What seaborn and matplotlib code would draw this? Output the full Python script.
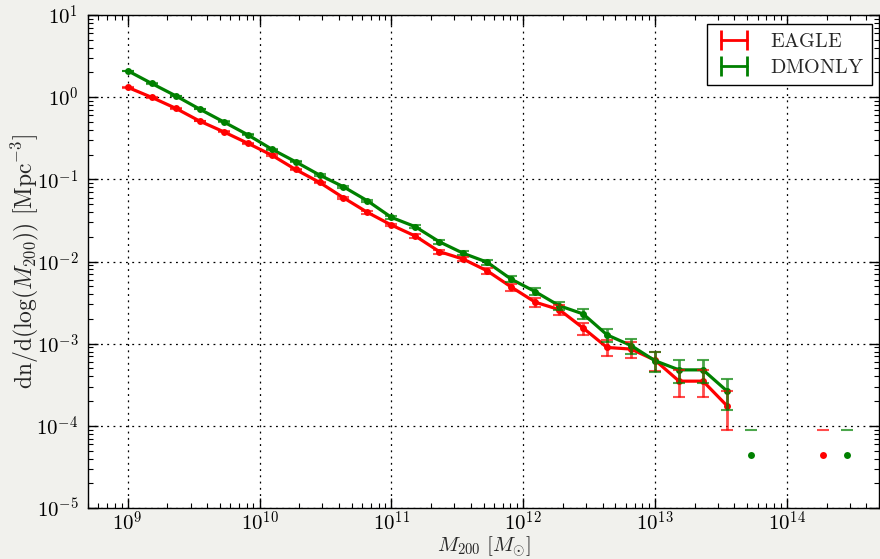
import numpy as np
import pandas as pd
import matplotlib
matplotlib.use("Agg")
import matplotlib.pyplot as plt
import seaborn as sns
from matplotlib.lines import Line2D
from matplotlib.ticker import LogLocator, NullFormatter

# ---- data ----
log_mass = [9.000, 9.182, 9.364, 9.545, 9.727, 9.909, 10.091, 10.273, 10.455, 10.636,
            10.818, 11.000, 11.182, 11.364, 11.545, 11.727, 11.909, 12.091, 12.273, 12.455,
            12.636, 12.818, 13.000, 13.182, 13.364, 13.545, 13.727, 13.909, 14.091, 14.273,
            14.455]
nan = np.nan
eagle_n = [1.32, 0.996, 0.733, 0.513, 0.380, 0.276, 0.198, 0.132, 0.092, 0.0598,
           0.0397, 0.0278, 0.0204, 0.0132, 0.0107, 0.0077, 0.0049, 0.0032, 0.0026, 0.00155,
           0.00090, 0.00086, 0.00063, 0.00035, 0.00035, 0.000176, nan, nan, nan, 4.4e-5,
           nan]
eagle_err = [0.0076, 0.0066, 0.0057, 0.0048, 0.0041, 0.0035, 0.0030, 0.0024, 0.0020, 0.0016,
             0.0013, 0.0011, 0.00095, 0.00076, 0.00069, 0.00058, 0.00046, 0.00038, 0.00034, 0.00026,
             0.00020, 0.00019, 0.000166, 0.000124, 0.000124, 0.000088, nan, nan, nan, 4.4e-5,
             nan]
dmonly_n = [2.10, 1.47, 1.04, 0.718, 0.502, 0.350, 0.234, 0.164, 0.113, 0.0813,
            0.0549, 0.0345, 0.0265, 0.0174, 0.0126, 0.0098, 0.0061, 0.0043, 0.0029, 0.0023,
            0.00128, 0.00095, 0.00062, 0.00048, 0.00048, 0.000266, 4.4e-5, nan, nan, nan,
            4.4e-5]
dmonly_err = [0.0096, 0.0080, 0.0068, 0.0056, 0.0047, 0.0039, 0.0032, 0.0027, 0.0022, 0.0019,
              0.0016, 0.0012, 0.0011, 0.00088, 0.00074, 0.00066, 0.00052, 0.00043, 0.00036, 0.00032,
              0.00024, 0.00020, 0.000165, 0.000145, 0.000145, 0.000108, 4.4e-5, nan, nan, nan,
              4.4e-5]
series_names = ["EAGLE", "DMONLY"]
series_colors = {"EAGLE": "#ff0000", "DMONLY": "#008000"}
x_ticks_exp = [9, 10, 11, 12, 13, 14]
y_ticks_exp = [-5, -4, -3, -2, -1, 0, 1]

# ---- long table; points whose lower error reaches zero stand alone ----
rows = []
for name, vals, errs in [("EAGLE", eagle_n, eagle_err), ("DMONLY", dmonly_n, dmonly_err)]:
    seg = 0
    prev_linked = False
    for lm, v, e in zip(log_mass, vals, errs):
        if np.isnan(v):
            prev_linked = False
            continue
        linked = (v - e) > 0
        if not (linked and prev_linked):
            seg += 1
        rows.append({"mass": 10.0 ** lm, "n": v, "err": e, "sim": name, "seg": seg})
        prev_linked = linked
df = pd.DataFrame(rows)

sns.set_style("ticks")
plt.rcParams["font.family"] = ["DejaVu Serif"]
plt.rcParams["mathtext.fontset"] = "cm"

fig = plt.figure(figsize=(8.8, 5.59), dpi=100)
fig.patch.set_facecolor("#f1f1ed")
ax = fig.add_axes([0.1, 0.0912, 0.8989, 0.8819])
ax.set_facecolor("white")
ax.set_xscale("log")
ax.set_yscale("log", nonpositive="mask")

sns.lineplot(data=df, x="mass", y="n", hue="sim", units="seg", estimator=None,
             palette=series_colors, hue_order=series_names, marker="o", markersize=5,
             markeredgewidth=0, linewidth=2.3, legend=False, ax=ax, sort=True)

for name in series_names:
    sub = df[df["sim"] == name]
    ax.errorbar(sub["mass"], sub["n"], yerr=sub["err"], fmt="none",
                ecolor=series_colors[name], elinewidth=2, capsize=4.5, capthick=1.5,
                alpha=0.7, zorder=3)

ax.set_xlim(5e8, 5e14)
ax.set_ylim(1e-5, 1e1)
ax.xaxis.set_minor_locator(LogLocator(base=10, subs=np.arange(2, 10), numticks=100))
ax.yaxis.set_minor_locator(LogLocator(base=10, subs=np.arange(2, 10), numticks=100))
ax.xaxis.set_minor_formatter(NullFormatter())
ax.yaxis.set_minor_formatter(NullFormatter())
ax.set_xticks([10.0 ** e for e in x_ticks_exp])
ax.set_xticklabels([r"$10^{%d}$" % e for e in x_ticks_exp])
ax.set_yticks([10.0 ** e for e in y_ticks_exp])
ax.set_yticklabels([r"$10^{%d}$" % e for e in y_ticks_exp])

ax.tick_params(which="both", direction="in", top=True, right=True, colors="black",
               labelsize=15)
ax.tick_params(axis="x", which="major", pad=2)
ax.tick_params(axis="y", which="major", pad=7)
ax.tick_params(which="major", length=7, width=1)
ax.tick_params(which="minor", length=3.5, width=0.8)
for s in ax.spines.values():
    s.set_color("black")
    s.set_linewidth(1)

ax.grid(True, which="major", linestyle=(0, (1.5, 3.5)), color="black", linewidth=0.9)
ax.set_axisbelow(True)

ax.set_xlabel(r"$M_{200}\ [M_{\odot}]$", fontsize=15)
ax.set_ylabel(r"$\mathrm{dn/d(log(}M_{200}\mathrm{))\ [Mpc^{-3}]}$", fontsize=17)
ax.xaxis.set_label_coords(0.5, -0.054)
ax.yaxis.set_label_coords(-0.06, 0.5)

handles = [Line2D([0], [0], color=series_colors[n], lw=2, marker="|", markersize=15,
                  markeredgewidth=2) for n in series_names]
labels = [r"$\mathrm{%s}$" % n for n in series_names]
leg = ax.legend(handles, labels, loc="upper right", bbox_to_anchor=(1 - 7 / 791, 1 - 9 / 493),
                borderaxespad=0, numpoints=2, fontsize=14.5, frameon=True, fancybox=False,
                handlelength=1.9, handletextpad=0.85, labelspacing=0.35, borderpad=0.4)
leg.get_frame().set_edgecolor("black")
leg.get_frame().set_linewidth(1)
leg.get_frame().set_alpha(1)

fig.savefig("out.png", dpi=100, facecolor=fig.get_facecolor())
